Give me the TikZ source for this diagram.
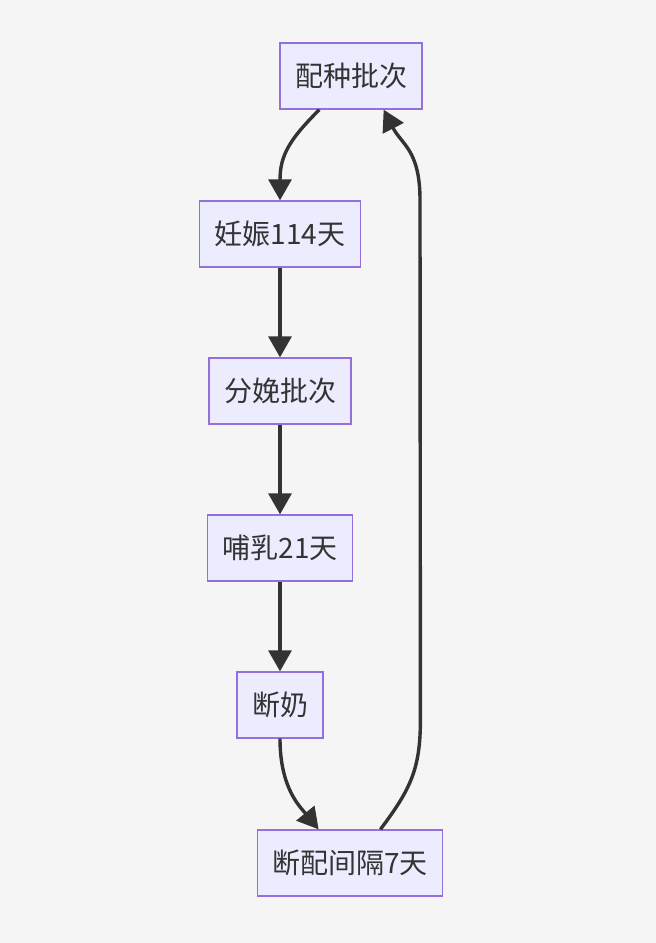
\documentclass[tikz,border=0pt]{standalone}
\usepackage{fontspec}
\newfontfamily\cjkfont{Noto Sans CJK SC}
\usetikzlibrary{arrows.meta,positioning}
\definecolor{boxfill}{HTML}{ECECFF}
\definecolor{boxline}{HTML}{9370DB}
\definecolor{ink}{HTML}{333333}
\definecolor{bg}{HTML}{F5F5F5}

\begin{document}
\begin{tikzpicture}[x=1pt,y=1pt,node distance=157pt,
  box/.style={draw=boxline,fill=boxfill,line width=1.3pt,minimum height=66pt,inner xsep=15pt,text=ink,font=\cjkfont\fontsize{28}{32}\selectfont},
  flow/.style={draw=ink,line width=3.4pt,-{Triangle[length=21pt,width=23pt]}}]
\fill[bg] (0,0) rectangle (656,-943);
\useasboundingbox (0,0) rectangle (656,-943);

\node[box] (peizhong) at (351,-76) {配种批次};
\node[box] (renshen) at (280,-234) {妊娠114天};
\node[box] (fenmian) [below of = renshen] {分娩批次};
\node[box] (buru) [below of = fenmian] {哺乳21天};
\node[box] (duannai) [below of = buru] {断奶};
\node[box] (jiange) at (350,-863) {断配间隔7天};

\path[flow] ([xshift=40pt]peizhong.south west) .. controls +(-30,-30) and +(0,45) .. (renshen.north);
\path[flow] (renshen) -- (fenmian);
\path[flow] (fenmian) -- (buru);
\path[flow] (buru) -- (duannai);
\path[flow] (duannai.south) .. controls +(0,-50) and +(-18,22) .. ([xshift=62pt]jiange.north west);
\path[flow] ([xshift=-63pt]jiange.north east) .. controls +(30,40) and +(0,-50) .. ++(40,110) -- (420,-200)
  .. controls +(0,50) and +(18,-35) .. ([xshift=-39pt]peizhong.south east);
\end{tikzpicture}
\end{document}
